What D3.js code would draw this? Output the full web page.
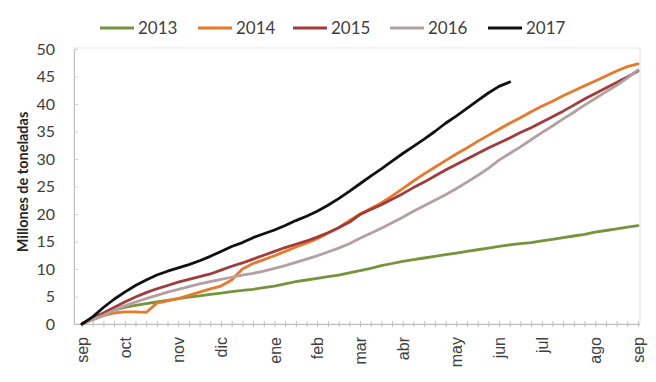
<!DOCTYPE html>
<html><head><meta charset="utf-8">
<script src="https://cdn.jsdelivr.net/npm/d3@7"></script>
<style>
html,body{margin:0;padding:0;background:#fff;}
svg{display:block;font-family:Lato,"Open Sans",sans-serif;}
</style></head>
<body><svg id="c" width="656" height="382"></svg>
<script>
const seriesNames = ["2013","2014","2015","2016","2017"];
const seriesColors = ["#77933C","#E8792A","#A23B3B","#B3A0A0","#111111"];
const monthLabels = ["sep","oct","nov","dic","ene","feb","mar","abr","may","jun","jul","ago","sep"];
const monthWeekIdx = [0,4,9,13,18,22,26,30,35,39,43,48,52];
const yTicks = [0,5,10,15,20,25,30,35,40,45,50];
const v2013 = [0,0.9,1.8,2.5,3.0,3.4,3.7,4.0,4.3,4.6,4.9,5.1,5.4,5.6,5.9,6.1,6.3,6.6,6.9,7.3,7.7,8.0,8.3,8.6,8.9,9.3,9.7,10.1,10.6,11.0,11.4,11.7,12.0,12.3,12.6,12.9,13.2,13.5,13.8,14.1,14.4,14.6,14.8,15.1,15.4,15.7,16.0,16.3,16.7,17.0,17.3,17.6,17.9];
const v2014 = [0,0.8,1.5,2.0,2.2,2.2,2.1,3.8,4.2,4.6,5.2,5.8,6.4,6.9,8.0,10.0,11.0,11.7,12.4,13.2,14.0,14.7,15.5,16.5,17.5,18.8,20.0,21.0,22.0,23.3,24.6,26.0,27.3,28.5,29.7,30.9,32.0,33.2,34.3,35.4,36.5,37.5,38.6,39.6,40.5,41.5,42.4,43.3,44.2,45.1,46.0,46.8,47.3];
const v2015 = [0,1.0,2.0,3.0,4.0,4.9,5.7,6.4,7.0,7.6,8.1,8.6,9.1,9.8,10.5,11.1,11.8,12.5,13.2,13.9,14.5,15.1,15.8,16.6,17.5,18.5,19.9,20.8,21.7,22.7,23.7,24.8,25.8,26.9,28.0,29.0,30.0,31.0,32.0,32.9,33.8,34.8,35.7,36.7,37.7,38.7,39.8,40.9,41.9,42.9,43.9,44.9,46.0];
const v2016 = [0,0.8,1.6,2.5,3.3,4.0,4.6,5.2,5.8,6.3,6.8,7.3,7.7,8.1,8.5,8.9,9.2,9.6,10.1,10.6,11.2,11.8,12.4,13.1,13.8,14.6,15.6,16.5,17.4,18.4,19.4,20.5,21.5,22.5,23.5,24.6,25.8,27.0,28.3,29.8,31.0,32.2,33.5,34.8,36.0,37.3,38.5,39.8,41.0,42.2,43.4,44.7,46.2];
const v2017 = [0,1.3,3.0,4.5,5.8,7.0,8.0,8.9,9.6,10.2,10.8,11.5,12.3,13.2,14.1,14.8,15.7,16.4,17.1,17.9,18.8,19.6,20.5,21.6,22.8,24.1,25.5,26.9,28.2,29.6,31.0,32.3,33.6,35.0,36.5,37.8,39.2,40.6,42.0,43.2,44.0];
const seriesValues = [v2013,v2014,v2015,v2016,v2017];

const svg = d3.select("#c");
const L=74, R=640, T=49, B=324;
const x = d3.scaleLinear().domain([0,52]).range([82,638]);
const y = d3.scaleLinear().domain([0,50]).range([B,T]);

svg.append("rect").attr("x",L).attr("y",T-1).attr("width",R-L).attr("height",B-T+1)
  .attr("fill","none").attr("stroke","#e3e3e3").attr("stroke-width",1);

const ya = svg.append("g").attr("transform",`translate(${L},0)`)
  .call(d3.axisLeft(y).tickValues(yTicks).tickSize(-4).tickPadding(19));
ya.select(".domain").attr("stroke","#bfbfbf");
ya.selectAll(".tick line").attr("stroke","#d0d0d0");
ya.selectAll("text").attr("font-size",16).attr("fill","#404040").attr("font-family","Lato");

const xa = svg.append("g").attr("transform",`translate(0,${B})`)
  .call(d3.axisBottom(x).tickValues(d3.range(0,53)).tickSizeInner(4).tickSizeOuter(0).tickFormat(""));
xa.select(".domain").attr("stroke","#bfbfbf").attr("d",`M${L},0.5H${R}`);
xa.selectAll(".tick line").attr("stroke","#bfbfbf").attr("y1",-3).attr("y2",3);

const xl = svg.append("g").attr("transform",`translate(0,${B})`)
  .call(d3.axisBottom(x).tickValues(monthWeekIdx).tickSize(0).tickFormat((d,i)=>monthLabels[i]));
xl.select(".domain").remove();
xl.selectAll("text").attr("font-size",16).attr("fill","#404040")
  .attr("transform","rotate(-90)").attr("text-anchor","end")
  .attr("x",-13).attr("y",0).attr("dy","0.35em");

svg.append("text").attr("transform","translate(23,182) rotate(-90)")
  .attr("text-anchor","middle").attr("dy","0.35em")
  .attr("font-size",14.5).attr("font-weight","bold").attr("fill","#262626")
  .text("Millones de toneladas");

const line = d3.line().x((d,i)=>x(i)).y(d=>y(d)).curve(d3.curveLinear);
seriesValues.forEach((vals,k)=>{
  svg.append("path").datum(vals).attr("d",line).attr("fill","none")
    .attr("stroke",seriesColors[k]).attr("stroke-width",2.8)
    .attr("stroke-linejoin","round").attr("stroke-linecap","round");
});

const legX = [100,198,293,390,488];
const lg = svg.append("g");
seriesNames.forEach((n,k)=>{
  lg.append("line").attr("x1",legX[k]).attr("x2",legX[k]+34).attr("y1",28).attr("y2",28)
    .attr("stroke",seriesColors[k]).attr("stroke-width",2.8);
  lg.append("text").attr("x",legX[k]+38).attr("y",28).attr("dy","0.36em")
    .attr("font-size",17).attr("fill","#404040").text(n);
});
</script></body></html>
